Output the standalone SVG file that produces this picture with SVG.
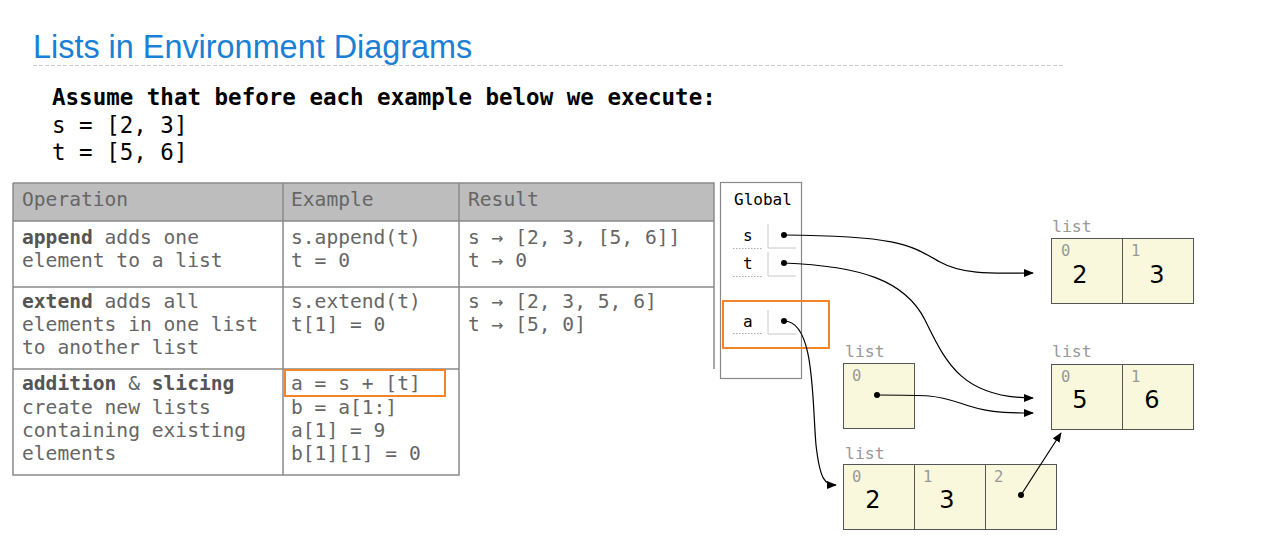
<svg xmlns="http://www.w3.org/2000/svg" width="1263" height="557" viewBox="0 0 1263 557">
<style>
.title{font-family:"Liberation Sans",Arial,sans-serif;font-size:32.4px;fill:#1a80d6}
.code{font-family:"DejaVu Sans Mono",monospace;font-size:22.5px;fill:#000}
.cell{font-family:"DejaVu Sans Mono",monospace;font-size:19.6px;fill:#666}
.grid{stroke:#8a8a8a;stroke-width:1.5;fill:none}
.hl{fill:none;stroke:#f4842a;stroke-width:2}
.frame{fill:#fff;stroke:#888;stroke-width:1.2}
.var{font-family:"DejaVu Sans Mono",monospace;font-size:16px;fill:#000}
.slot{stroke:#c8c8c8;stroke-width:1;fill:none}
.dotl{stroke:#aaa;stroke-width:1;stroke-dasharray:1.5 1.5}
.lbox{fill:#faf8dc;stroke:#555;stroke-width:1}
.lbl{font-family:"DejaVu Sans Mono",monospace;font-size:16.5px;fill:#999}
.idx{font-family:"DejaVu Sans Mono",monospace;font-size:15.5px;fill:#999}
.val{font-family:"DejaVu Sans",sans-serif;font-size:24px;fill:#000}
.arr{fill:none;stroke:#000;stroke-width:1.2}
</style>
<defs>
<marker id="ah" markerWidth="10" markerHeight="8" refX="9" refY="4" orient="auto" markerUnits="userSpaceOnUse">
<path d="M0,0 L10,4 L0,8 Z" fill="#000"/>
</marker>
</defs>
<g id="header">
<text class="title" x="33" y="58">Lists in Environment Diagrams</text>
<line x1="33" y1="65.5" x2="1065" y2="65.5" stroke="#ccc" stroke-width="1" stroke-dasharray="4 2"/>
<text class="code" x="52" y="105" font-weight="bold">Assume that before each example below we execute:</text>
<text class="code" x="52" y="133">s = [2, 3]</text>
<text class="code" x="52" y="160">t = [5, 6]</text>
</g>
<g id="table">
<rect x="13" y="183" width="701" height="38" fill="#bdbdbd"/>
<path class="grid" d="M13,183 H714 V369 M13,183 V475 H459 V183 M283,183 V475 M13,221 H714 M13,287 H714 M13,369 H459"/>
<text class="cell" x="22" y="206">Operation</text>
<text class="cell" x="291" y="206">Example</text>
<text class="cell" x="468" y="206">Result</text>
<text class="cell" x="22" y="244"><tspan font-weight="bold" fill="#555">append</tspan> adds one</text>
<text class="cell" x="22" y="267">element to a list</text>
<text class="cell" x="291" y="244">s.append(t)</text>
<text class="cell" x="291" y="267">t = 0</text>
<text class="cell" x="468" y="244">s → [2, 3, [5, 6]]</text>
<text class="cell" x="468" y="267">t → 0</text>
<text class="cell" x="22" y="308"><tspan font-weight="bold" fill="#555">extend</tspan> adds all</text>
<text class="cell" x="22" y="331">elements in one list</text>
<text class="cell" x="22" y="354">to another list</text>
<text class="cell" x="291" y="308">s.extend(t)</text>
<text class="cell" x="291" y="331">t[1] = 0</text>
<text class="cell" x="468" y="308">s → [2, 3, 5, 6]</text>
<text class="cell" x="468" y="331">t → [5, 0]</text>
<text class="cell" x="22" y="390"><tspan font-weight="bold" fill="#555">addition</tspan> &amp; <tspan font-weight="bold" fill="#555">slicing</tspan></text>
<text class="cell" x="22" y="414">create new lists</text>
<text class="cell" x="22" y="437">containing existing</text>
<text class="cell" x="22" y="460">elements</text>
<text class="cell" x="291" y="390">a = s + [t]</text>
<text class="cell" x="291" y="414">b = a[1:]</text>
<text class="cell" x="291" y="437">a[1] = 9</text>
<text class="cell" x="291" y="460">b[1][1] = 0</text>
<rect class="hl" x="285" y="370" width="160" height="26"/>
</g>
<g id="global-frame">
<rect class="frame" x="720.5" y="182.5" width="81" height="196"/>
<text class="var" x="734" y="205">Global</text>
<text class="var" x="743" y="241">s</text>
<path class="slot" d="M768,224 V248 H796"/>
<line class="dotl" x1="733" y1="248.5" x2="762" y2="248.5"/>
<text class="var" x="743" y="269">t</text>
<path class="slot" d="M768,252 V276 H796"/>
<line class="dotl" x1="733" y1="276.5" x2="762" y2="276.5"/>
<text class="var" x="743" y="327">a</text>
<path class="slot" d="M768,310 V334 H796"/>
<line class="dotl" x1="733" y1="333.5" x2="762" y2="333.5"/>
<rect class="hl" x="723" y="301" width="106" height="47"/>
</g>
<g id="list-s">
<text class="lbl" x="1052" y="232">list</text>
<rect class="lbox" x="1051.5" y="238.5" width="71" height="65"/>
<rect class="lbox" x="1122.5" y="238.5" width="71" height="65"/>
<text class="idx" x="1061" y="256">0</text>
<text class="idx" x="1131" y="256">1</text>
<text class="val" x="1080" y="283" text-anchor="middle">2</text>
<text class="val" x="1157" y="283" text-anchor="middle">3</text>
</g>
<g id="list-t">
<text class="lbl" x="1052" y="357">list</text>
<rect class="lbox" x="1051.5" y="364.5" width="71" height="65"/>
<rect class="lbox" x="1122.5" y="364.5" width="71" height="65"/>
<text class="idx" x="1061" y="382">0</text>
<text class="idx" x="1131" y="382">1</text>
<text class="val" x="1080" y="408" text-anchor="middle">5</text>
<text class="val" x="1152" y="408" text-anchor="middle">6</text>
</g>
<g id="list-bracket-t">
<text class="lbl" x="845" y="357">list</text>
<rect class="lbox" x="843.5" y="363.5" width="71" height="65"/>
<text class="idx" x="852" y="381">0</text>
</g>
<g id="list-a">
<text class="lbl" x="845" y="459">list</text>
<rect class="lbox" x="843.5" y="464.5" width="71" height="65"/>
<rect class="lbox" x="914.5" y="464.5" width="71" height="65"/>
<rect class="lbox" x="985.5" y="464.5" width="71" height="65"/>
<text class="idx" x="852" y="482">0</text>
<text class="idx" x="923" y="482">1</text>
<text class="idx" x="994" y="482">2</text>
<text class="val" x="873" y="508" text-anchor="middle">2</text>
<text class="val" x="947" y="508" text-anchor="middle">3</text>
</g>
<g id="connectors">
<circle cx="784" cy="235" r="3"/>
<circle cx="784" cy="263" r="3"/>
<circle cx="784" cy="321" r="3"/>
<circle cx="877" cy="395" r="3"/>
<circle cx="1021" cy="495" r="3"/>
<path class="arr" d="M784,235 C900,236 910,245 940,262 C965,276 1000,273 1033,273" marker-end="url(#ah)"/>
<path class="arr" d="M784,263 C860,266 905,280 925,320 C945,360 960,398 1033,398" marker-end="url(#ah)"/>
<path class="arr" d="M877,395 C930,395 935,395 960,403 C985,412 1000,413 1033,413" marker-end="url(#ah)"/>
<path class="arr" d="M784,321 C815,321 812,400 816,445 C820,480 825,485 836,485" marker-end="url(#ah)"/>
<path class="arr" d="M1021,495 L1061,433" marker-end="url(#ah)" stroke-width="1"/>
</g>
</svg>
